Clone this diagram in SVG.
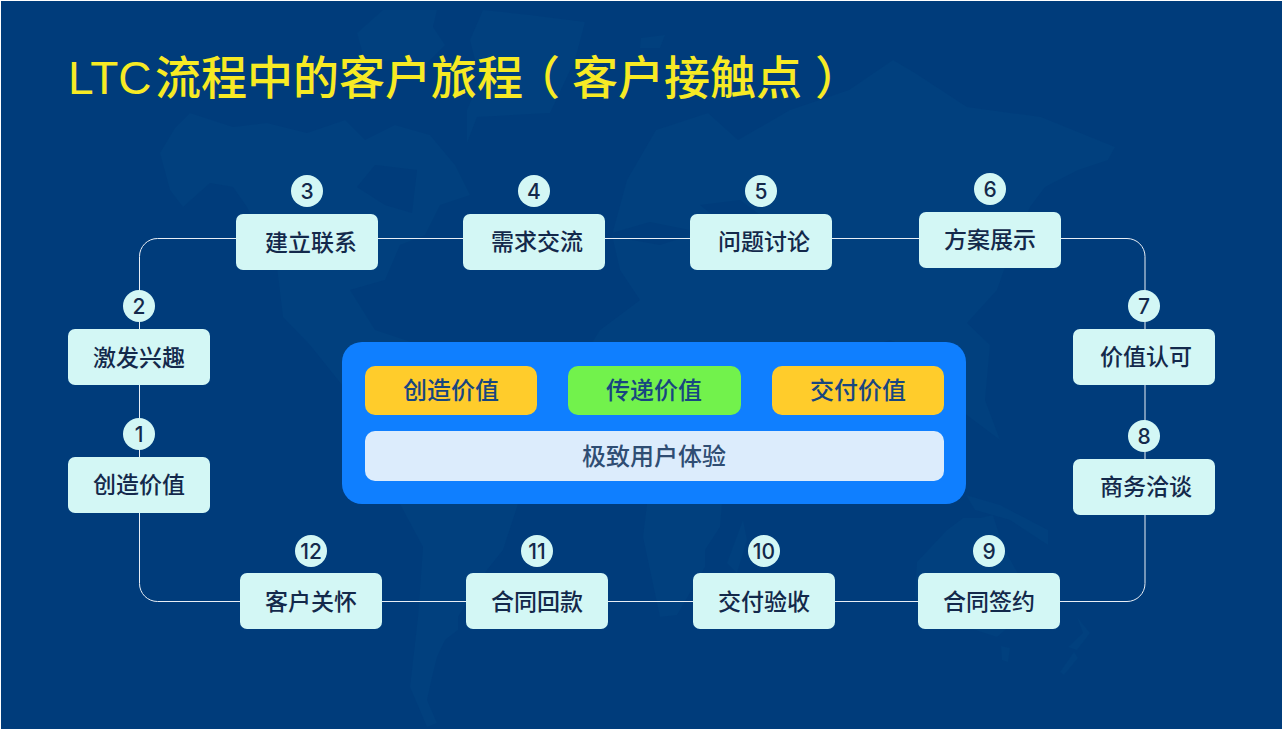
<svg xmlns="http://www.w3.org/2000/svg" width="1282" height="729" viewBox="0 0 1282 729">
<style>
.n{fill:#d3f7f5}
.t{font-family:"Noto Sans CJK SC","Liberation Sans",sans-serif;font-size:23px;font-weight:500;fill:#13294b;text-anchor:middle}
.c{font-family:"Inter","Liberation Sans",sans-serif;font-size:21px;font-weight:500;fill:#13294b;text-anchor:middle}
.w{fill:none;stroke:#e8eef5;stroke-width:1}
.m{fill:#01407e}
.d{fill:#003c7b}
.p{font-feature-settings:"halt"}
.k{font-family:"Noto Sans CJK SC","Liberation Sans",sans-serif;font-size:24px;font-weight:500;fill:#184680;text-anchor:middle}
</style>
<rect width="1282" height="729" fill="#fff"/>
<rect x="1" y="1" width="1281" height="728" fill="#003c7b"/>
<g id="map">
<path class="m" d="M160 153L175 128L190 113L233 127L267 123L307 133L345 120L365 140L395 125L430 135L455 165L470 195L440 205L425 235L400 245L385 280L350 290L375 330L420 345L470 360L518 400L530 450L518 504L503 550L487 570L458 617L458 630L445 640L437 657L433 673L427 700L437 723L427 727L410 687L418 617L423 547L400 504L375 440L350 395L310 345L283 317L277 267L247 207L233 187L210 183L183 207L170 190Z"/>
<path class="m" d="M357 33L383 10L437 10L433 27L445 45L420 70L395 60L365 62Z"/>
<path class="m" d="M467 143L477 117L550 113L575 60L585 22L530 15L483 10L470 40L480 80L467 110Z"/>
<path class="m" d="M627 180L656 130L708 113L738 140L790 110L849 90L893 60L915 73L967 107L1041 117L1115 147L1108 160L1078 170L1045 187L1030 207L1004 270L997 290L967 323L990 345L985 400L1000 440L960 410L934 370L915 350L890 340L860 350L845 390L825 420L790 410L755 380L735 350L700 345L720 400L745 430L725 470L720 527L705 550L705 567L677 615L660 617L643 537L647 504L610 480L575 470L555 430L575 370L600 330L640 300L620 270L612 235Z"/>
<path class="m" d="M917 562L947 530L963 518L980 518L993 515L1003 547L1020 577L1022 600L1013 623L997 637L960 625L925 625L915 595Z"/>
<path class="m" d="M1001 646L1010 648L1008 662L1002 660Z"/>
<path class="m" d="M727 563L743 520L747 540L737 573Z"/>
<path class="m" d="M1077 617L1090 633L1077 650L1068 647L1083 633ZM1074 652L1060 672L1064 675L1078 658Z"/>
<path class="m" d="M966 495L1000 505L1048 530L1048 545L1010 520L975 510ZM641 38L665 35L660 48L640 48ZM1028 250L1048 212L1050 225L1034 255Z"/>
<path class="d" d="M357 187L375 165L417 170L412 213L385 205ZM605 235L650 222L700 232L660 245ZM700 205L740 200L760 215L725 225ZM790 345L800 350L815 410L800 395Z"/>
</g>
<text font-family="Liberation Sans,Noto Sans CJK SC,sans-serif" font-size="46" font-weight="500" fill="#f7ea24" y="94"><tspan x="68">LTC</tspan><tspan x="155">流程中的客户旅程</tspan><tspan class="p" x="537">（</tspan><tspan x="572">客户接触点</tspan><tspan class="p" x="815">）</tspan></text>
<g id="connectors" class="w">
<path d="M236 238.500H157.500a18 18 0 0 0-18 18V329"/>
<path d="M378 238.500H463M605 238.500H690M832 238.500H919"/>
<path d="M1061 238.500H1127a18 18 0 0 1 18 18V329"/>
<path d="M139.500 385V457M1145 385V459"/>
<path d="M139.500 513V583.500a18 18 0 0 0 18 18H240"/>
<path d="M382 601.500H466M608 601.500H693M835 601.500H918"/>
<path d="M1060 601.500H1127a18 18 0 0 0 18-18V515"/>
</g>
<g id="n1"><circle class="n" cx="139" cy="434" r="16"/><text class="c" x="139" y="441.500">1</text><rect class="n" x="68" y="457" width="142" height="56" rx="7"/><text class="t" x="139" y="493">创造价值</text></g>
<g id="n2"><circle class="n" cx="139" cy="306" r="16"/><text class="c" x="139" y="313.500">2</text><rect class="n" x="68" y="329" width="142" height="56" rx="7"/><text class="t" x="139" y="366">激发兴趣</text></g>
<g id="n3"><circle class="n" cx="307" cy="191" r="16"/><text class="c" x="307" y="198.500">3</text><rect class="n" x="236" y="214" width="142" height="56" rx="7"/><text class="t" x="311" y="251">建立联系</text></g>
<g id="n4"><circle class="n" cx="534" cy="191" r="16"/><text class="c" x="534" y="198.500">4</text><rect class="n" x="463" y="214" width="142" height="56" rx="7"/><text class="t" x="537" y="250">需求交流</text></g>
<g id="n5"><circle class="n" cx="761" cy="191" r="16"/><text class="c" x="761" y="198.500">5</text><rect class="n" x="690" y="214" width="142" height="56" rx="7"/><text class="t" x="764" y="250">问题讨论</text></g>
<g id="n6"><circle class="n" cx="990" cy="189" r="16"/><text class="c" x="990" y="196.500">6</text><rect class="n" x="919" y="212" width="142" height="56" rx="7"/><text class="t" x="990" y="248">方案展示</text></g>
<g id="n7"><circle class="n" cx="1144" cy="306" r="16"/><text class="c" x="1144" y="313.500">7</text><rect class="n" x="1073" y="329" width="142" height="56" rx="7"/><text class="t" x="1146" y="365">价值认可</text></g>
<g id="n8"><circle class="n" cx="1144" cy="436" r="16"/><text class="c" x="1144" y="443.500">8</text><rect class="n" x="1073" y="459" width="142" height="56" rx="7"/><text class="t" x="1146" y="495">商务洽谈</text></g>
<g id="n9"><circle class="n" cx="989" cy="551" r="16"/><text class="c" x="989" y="558.500">9</text><rect class="n" x="918" y="573" width="142" height="56" rx="7"/><text class="t" x="989" y="610">合同签约</text></g>
<g id="n10"><circle class="n" cx="764" cy="551" r="16"/><text class="c" x="764" y="558.500">10</text><rect class="n" x="693" y="573" width="142" height="56" rx="7"/><text class="t" x="764" y="610">交付验收</text></g>
<g id="n11"><circle class="n" cx="537" cy="551" r="16"/><text class="c" x="537" y="558.500">11</text><rect class="n" x="466" y="573" width="142" height="56" rx="7"/><text class="t" x="537" y="610">合同回款</text></g>
<g id="n12"><circle class="n" cx="311" cy="551" r="16"/><text class="c" x="311" y="558.500">12</text><rect class="n" x="240" y="573" width="142" height="56" rx="7"/><text class="t" x="311" y="610">客户关怀</text></g>
<g id="center">
<rect x="342" y="342" width="624" height="162" rx="20" fill="#0f7fff"/>
<rect x="365" y="366" width="172" height="49" rx="10" fill="#ffcc2b"/><text class="k" x="451" y="399">创造价值</text>
<rect x="568" y="366" width="173" height="49" rx="10" fill="#72f24c"/><text class="k" x="654" y="399">传递价值</text>
<rect x="772" y="366" width="172" height="49" rx="10" fill="#ffcc2b"/><text class="k" x="858" y="399">交付价值</text>
<rect x="365" y="431" width="579" height="50" rx="10" fill="#dcecfc"/><text class="k" style="fill:#2f4d73" x="654" y="465">极致用户体验</text>
</g>
</svg>
